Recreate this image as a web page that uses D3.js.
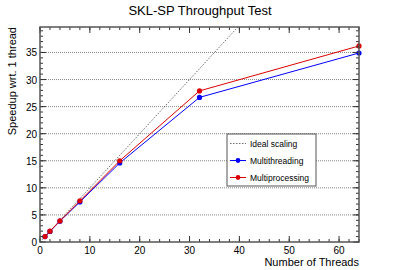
<!DOCTYPE html>
<html>
<head>
<meta charset="utf-8">
<script src="https://cdn.jsdelivr.net/npm/d3@7"></script>
<style>
  body { margin: 0; background: #fff; }
  text { font-family: "Liberation Sans", Arial, sans-serif; }
</style>
</head>
<body>
<div id="chart"></div>
<script>
const threads = [1, 2, 4, 8, 16, 32, 64];
const multithreading = [1.0, 1.95, 3.85, 7.4, 14.6, 26.7, 34.9];
const multiprocessing = [1.0, 2.0, 3.9, 7.6, 15.0, 27.9, 36.2];
const idealX = [0, 64];
const xTicks = [0, 10, 20, 30, 40, 50, 60];
const yTicks = [0, 5, 10, 15, 20, 25, 30, 35];
const legendLabels = ['Ideal scaling', 'Multithreading', 'Multiprocessing'];

const svgWidth = 399;
const svgHeight = 270;
const margin = { top: 27, right: 40, bottom: 28, left: 40 };
const width = svgWidth - margin.left - margin.right;
const height = svgHeight - margin.top - margin.bottom;

const svg = d3.select('#chart')
    .append('svg')
    .attr('width', svgWidth)
    .attr('height', svgHeight);

const g = svg.append('g')
    .attr('transform', 'translate(' + margin.left + ',' + margin.top + ')');

const xScale = d3.scaleLinear().domain([0, 64]).range([0, width]);
const yScale = d3.scaleLinear().domain([0, 39.7]).range([height, 0]);

g.append('clipPath').attr('id', 'clip')
    .append('rect').attr('width', width).attr('height', height);

// horizontal grid
g.selectAll('.grid')
    .data(yTicks.filter(d => d > 0))
    .enter().append('line')
    .attr('x1', 0).attr('x2', width)
    .attr('y1', d => yScale(d)).attr('y2', d => yScale(d))
    .attr('stroke', '#888')
    .attr('stroke-width', 1)
    .attr('stroke-dasharray', '1,1');

// ideal scaling
g.append('line')
    .attr('clip-path', 'url(#clip)')
    .attr('x1', xScale(idealX[0])).attr('y1', yScale(idealX[0]))
    .attr('x2', xScale(idealX[1])).attr('y2', yScale(idealX[1]))
    .attr('stroke', '#444')
    .attr('stroke-width', 0.8)
    .attr('stroke-dasharray', '1.5,1.5');

const line = d3.line()
    .x((d, i) => xScale(threads[i]))
    .y(d => yScale(d));

const series = [
    { values: multithreading, color: '#0000ff' },
    { values: multiprocessing, color: '#dd0000' }
];

series.forEach(s => {
    g.append('path')
        .datum(s.values)
        .attr('d', line)
        .attr('fill', 'none')
        .attr('stroke', s.color)
        .attr('stroke-width', 1);
    g.selectAll(null)
        .data(s.values)
        .enter().append('circle')
        .attr('cx', (d, i) => xScale(threads[i]))
        .attr('cy', d => yScale(d))
        .attr('r', 2.6)
        .attr('fill', s.color);
});

// axes with inward ticks, ROOT style
const xMinor = d3.range(0, 65, 2);
const yMinor = d3.range(0, 40, 1);

function tickLines(data, pos, len, horizontal, offset, dir) {
    g.selectAll(null)
        .data(data)
        .enter().append('line')
        .attr('x1', d => horizontal ? pos(d) : offset)
        .attr('x2', d => horizontal ? pos(d) : offset + dir * len)
        .attr('y1', d => horizontal ? offset : pos(d))
        .attr('y2', d => horizontal ? offset + dir * len : pos(d))
        .attr('stroke', '#333')
        .attr('stroke-width', 1);
}

tickLines(xMinor, xScale, 3, true, height, -1);
tickLines(xTicks, xScale, 6, true, height, -1);
tickLines(xMinor, xScale, 3, true, 0, 1);
tickLines(xTicks, xScale, 6, true, 0, 1);
tickLines(yMinor, yScale, 3, false, 0, 1);
tickLines(yTicks, yScale, 6, false, 0, 1);
tickLines(yMinor, yScale, 3, false, width, -1);
tickLines(yTicks, yScale, 6, false, width, -1);

g.append('rect')
    .attr('width', width)
    .attr('height', height)
    .attr('fill', 'none')
    .attr('stroke', '#555')
    .attr('stroke-width', 1.5);

g.selectAll('.xlabel')
    .data(xTicks)
    .enter().append('text')
    .attr('x', d => xScale(d))
    .attr('y', height + 12)
    .attr('text-anchor', 'middle')
    .style('font-size', '10px')
    .text(d => d);

g.selectAll('.ylabel')
    .data(yTicks)
    .enter().append('text')
    .attr('x', -3)
    .attr('y', d => yScale(d) + 4)
    .attr('text-anchor', 'end')
    .style('font-size', '10px')
    .text(d => d);

svg.append('text')
    .attr('x', 200)
    .attr('y', 15)
    .attr('text-anchor', 'middle')
    .style('font-size', '13px')
    .text('SKL-SP Throughput Test');

svg.append('text')
    .attr('x', margin.left + width)
    .attr('y', 266)
    .attr('text-anchor', 'end')
    .style('font-size', '11px')
    .text('Number of Threads');

svg.append('text')
    .attr('transform', 'rotate(-90)')
    .attr('x', -margin.top)
    .attr('y', 16)
    .attr('text-anchor', 'end')
    .style('font-size', '11px')
    .text('Speedup wrt. 1 thread');

// legend
const legend = svg.append('g').attr('transform', 'translate(227,134)');
legend.append('rect')
    .attr('width', 89)
    .attr('height', 52)
    .attr('fill', '#fff')
    .attr('stroke', '#555')
    .attr('stroke-width', 1);

const legendItems = [
    { label: legendLabels[0], color: '#444', dash: '1.5,1.5', marker: false },
    { label: legendLabels[1], color: '#0000ff', dash: null, marker: true },
    { label: legendLabels[2], color: '#dd0000', dash: null, marker: true }
];

legendItems.forEach((item, i) => {
    const yy = 9.5 + i * 17;
    legend.append('line')
        .attr('x1', 3).attr('x2', 19)
        .attr('y1', yy).attr('y2', yy)
        .attr('stroke', item.color)
        .attr('stroke-width', item.marker ? 1 : 0.8)
        .attr('stroke-dasharray', item.dash);
    if (item.marker) {
        legend.append('circle')
            .attr('cx', 11).attr('cy', yy).attr('r', 2.4)
            .attr('fill', item.color);
    }
    legend.append('text')
        .attr('x', 23)
        .attr('y', yy + 3)
        .style('font-size', '8.5px')
        .text(item.label);
});
</script>
</body>
</html>
